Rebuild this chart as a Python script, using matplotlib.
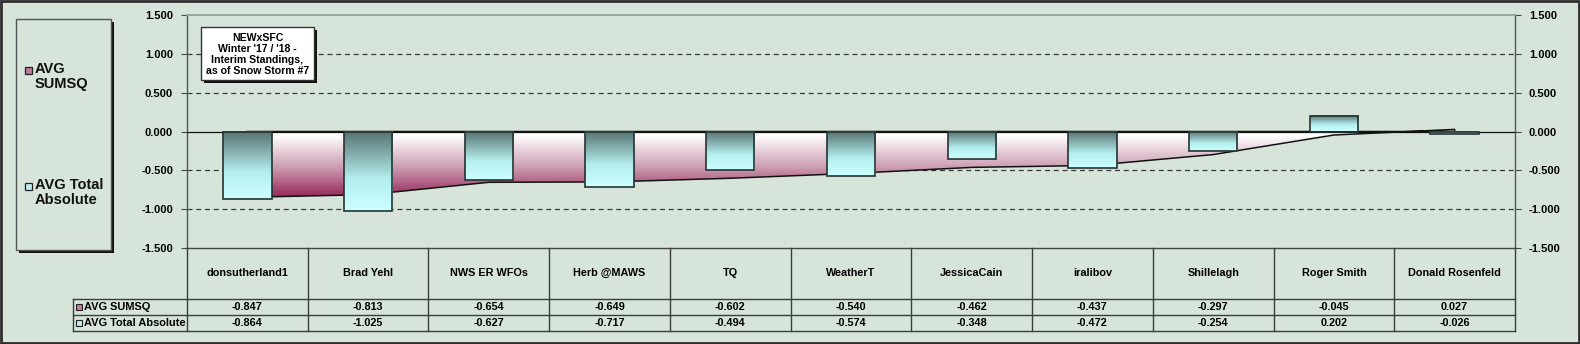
import numpy as np
import matplotlib
matplotlib.use("Agg")
import matplotlib.pyplot as plt
from matplotlib.colors import LinearSegmentedColormap
from matplotlib.patches import Rectangle, Polygon

plt.rcParams['font.family'] = ['Liberation Sans', 'DejaVu Sans']
plt.rcParams['font.weight'] = 'bold'

names = ['donsutherland1', 'Brad Yehl', 'NWS ER WFOs', 'Herb @MAWS', 'TQ', 'WeatherT',
         'JessicaCain', 'iralibov', 'Shillelagh', 'Roger Smith', 'Donald Rosenfeld']
avg_sumsq = [-0.847, -0.813, -0.654, -0.649, -0.602, -0.540, -0.462, -0.437, -0.297, -0.045, 0.027]
avg_total_abs = [-0.864, -1.025, -0.627, -0.717, -0.494, -0.574, -0.348, -0.472, -0.254, 0.202, -0.026]
series_names = ['AVG SUMSQ', 'AVG Total Absolute']
title_text = "NEWxSFC\nWinter '17 / '18 -\nInterim Standings,\nas of Snow Storm #7"

W, H = 1580, 344
BG = '#d6e4da'
area_cmap = LinearSegmentedColormap.from_list(
    'sumsq', [(0, '#962458'), (0.45, '#cd9fb3'), (0.9, '#ffffff'), (1, '#ffffff')])
bar_cmap = LinearSegmentedColormap.from_list(
    'totabs', [(0, '#ccffff'), (0.4, '#b4eeee'), (1, '#567270')])

fig = plt.figure(figsize=(W / 100, H / 100), dpi=100, facecolor=BG)

# plot area in pixel terms
px_l, px_r, px_t, px_b = 187, 1515, 15, 248
ax = fig.add_axes([px_l / W, 1 - px_b / H, (px_r - px_l) / W, (px_b - px_t) / H])
ax.set_facecolor('none')
n = len(names)
x = np.arange(n)
ax.set_xlim(-0.5, n - 0.5)
ax.set_ylim(-1.5, 1.5)

for g in (-1.0, -0.5, 0.5, 1.0):
    ax.axhline(g, color='#3a3a3a', lw=0.9, dashes=(4, 3), zorder=1)

# gradient-filled area for AVG SUMSQ
verts = [(x[0], 0)] + list(zip(x, avg_sumsq)) + [(x[-1], 0)]
poly = Polygon(verts, closed=True, facecolor='none', edgecolor='#111111', lw=1.1, zorder=3)
ax.add_patch(poly)
grad = np.linspace(0, 1, 256).reshape(-1, 1)
im = ax.imshow(grad, cmap=area_cmap, origin='lower', aspect='auto',
               extent=[-0.5, n - 0.5, -0.85, 0.05], zorder=2, interpolation='bilinear')
im.set_clip_path(poly)

ax.axhline(0, color='#111111', lw=0.9, zorder=3)

# gradient bars for AVG Total Absolute
bw = 0.4
for xi, v in zip(x, avg_total_abs):
    lo, hi = min(0, v), max(0, v)
    ax.imshow(grad, cmap=bar_cmap, origin='lower', aspect='auto',
              extent=[xi - bw / 2, xi + bw / 2, lo, hi], zorder=4, interpolation='bilinear')
    ax.add_patch(Rectangle((xi - bw / 2, lo), bw, hi - lo, facecolor='none',
                           edgecolor='#243232', lw=1.2, zorder=5))

ax.set_xlim(-0.5, n - 0.5)
ax.set_ylim(-1.5, 1.5)
ax.set_xticks([])
ticks = np.arange(-1.5, 1.51, 0.5)
ax.set_yticks(ticks)
ax.set_yticklabels([f'{t:.3f}' for t in ticks])
ax.tick_params(axis='y', left=True, right=True, labelleft=True, labelright=True,
               length=4, width=0.8, color='#444444', labelsize=8, pad=6)
for lab in ax.get_yticklabels():
    lab.set_fontweight('bold')
for s in ('left', 'right'):
    ax.spines[s].set_color('#555555')
    ax.spines[s].set_linewidth(1)
ax.spines['top'].set_color('#8e9e94')
ax.spines['top'].set_linewidth(1.2)
ax.spines['bottom'].set_color('#444444')
ax.spines['bottom'].set_linewidth(1)

# overlay in pixel coordinates for the table, legend and title box
ov = fig.add_axes([0, 0, 1, 1], zorder=10)
ov.set_xlim(0, W)
ov.set_ylim(H, 0)
ov.axis('off')
ov.patch.set_alpha(0)

colw = (px_r - px_l) / n
lc = '#3c3c3c'
row1, row2, row3 = 299, 315, 331
key_l = 73
for i in range(n + 1):
    xx = px_l + i * colw
    ov.plot([xx, xx], [px_b, row3], color=lc, lw=1)
for yy in (row1, row2, row3):
    ov.plot([key_l, px_r], [yy, yy], color=lc, lw=1)
ov.plot([key_l, key_l], [row1, row3], color=lc, lw=1)

key_cols = ['#c27a98', '#bfeeee']
fs_tab = 7.8
for i, nm in enumerate(names):
    cx = px_l + (i + 0.5) * colw
    ov.text(cx, 273, nm, ha='center', va='center', fontsize=fs_tab, fontweight='bold')
    ov.text(cx, (row1 + row2) / 2, f'{avg_sumsq[i]:.3f}', ha='center', va='center',
            fontsize=fs_tab, fontweight='bold')
    ov.text(cx, (row2 + row3) / 2, f'{avg_total_abs[i]:.3f}', ha='center', va='center',
            fontsize=fs_tab, fontweight='bold')
for k, (yy, sn) in enumerate(zip(((row1 + row2) / 2, (row2 + row3) / 2), series_names)):
    ov.add_patch(Rectangle((76, yy - 3), 6, 6, facecolor=key_cols[k], edgecolor='#222222', lw=0.8))
    ov.text(84, yy, sn, ha='left', va='center', fontsize=7.9, fontweight='bold')

# legend box with drop shadow
lx0, ly0, lx1, ly1 = 16, 19, 111, 250
ov.add_patch(Rectangle((lx0 + 3, ly0 + 3), lx1 - lx0, ly1 - ly0, facecolor='#111111', lw=0))
ov.add_patch(Rectangle((lx0, ly0), lx1 - lx0, ly1 - ly0, facecolor=BG, edgecolor='#555555', lw=1))
for k, (yy, lab) in enumerate(zip((70, 186), ('AVG\nSUMSQ', 'AVG Total\nAbsolute'))):
    ov.add_patch(Rectangle((25, yy - 3), 7, 7, facecolor=key_cols[k], edgecolor='#222222', lw=0.9))
    ov.text(35, yy - 8, lab, ha='left', va='top', fontsize=10.5, fontweight='bold',
            linespacing=1.1, color='#111111')

# title box with drop shadow
tx0, ty0, tx1, ty1 = 201, 27, 314, 80
ov.add_patch(Rectangle((tx0 + 3, ty0 + 3), tx1 - tx0, ty1 - ty0, facecolor='#111111', lw=0))
ov.add_patch(Rectangle((tx0, ty0), tx1 - tx0, ty1 - ty0, facecolor='white', edgecolor='#333333', lw=1))
ov.text((tx0 + tx1) / 2, (ty0 + ty1) / 2 + 1, title_text, ha='center', va='center',
        fontsize=7.6, fontweight='bold', linespacing=1.15)

# outer frame
ov.add_patch(Rectangle((1, 1), W - 2, H - 2, facecolor='none', edgecolor='#2e2e2e', lw=2))

fig.savefig('out.png', dpi=100, facecolor=BG)
